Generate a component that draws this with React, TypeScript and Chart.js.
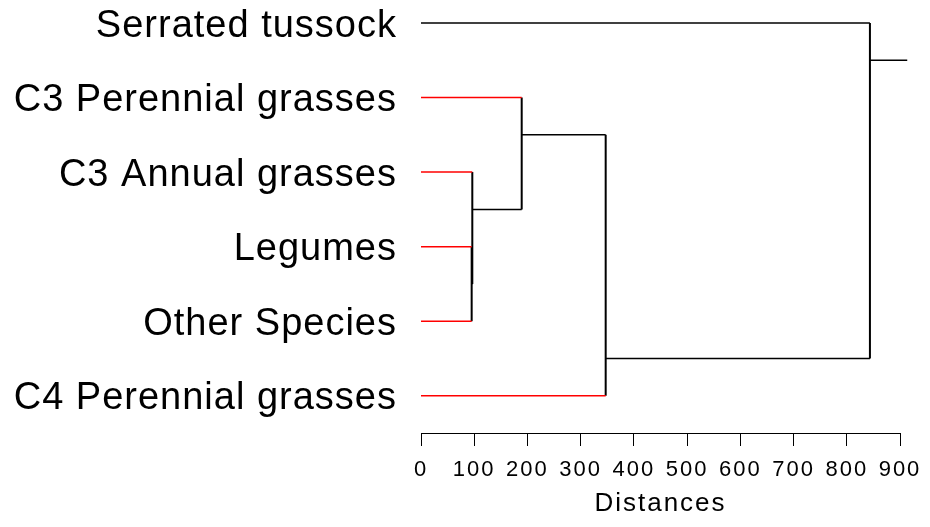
import React, { useEffect, useRef } from "react";
import { Chart, registerables } from "chart.js";

Chart.register(...registerables);

// Leaves, top to bottom (row index 0..5)
const leafLabels = [
  "Serrated tussock",
  "C3 Perennial grasses",
  "C3 Annual grasses",
  "Legumes",
  "Other Species",
  "C4 Perennial grasses",
];
// Distance at which each leaf joins its cluster
const leafJoin = [843.5, 189.2, 96.4, 95.2, 95.2, 347];
const leafColors = ["#000000", "#ff0000", "#ff0000", "#ff0000", "#ff0000", "#ff0000"];

// Internal nodes: joining distance, vertical extent (rows), outgoing row, parent distance
const nodeHeight = [95.2, 96.4, 189.2, 347, 843.5];
const nodeTop = [3, 2, 1, 1.5, 0];
const nodeBottom = [4, 3.5, 2.5, 5, 4.5];
const nodeOut = [3.5, 2.5, 1.5, 4.5, 0.5];
const nodeParent = [96.4, 189.2, 347, 843.5, 913.6];

const xTicks = [0, 100, 200, 300, 400, 500, 600, 700, 800, 900];

const FONT = "'Liberation Sans', Arial, Helvetica, sans-serif";

const spacingPlugin = {
  id: "spacing",
  beforeDraw(chart: any) {
    chart.ctx.letterSpacing = "1px";
  },
  afterDatasetsDraw(chart: any) {
    chart.ctx.letterSpacing = "2px";
  },
  afterDraw(chart: any) {
    chart.ctx.letterSpacing = "0px";
  },
};

export default function App() {
  const ref = useRef<HTMLCanvasElement | null>(null);

  useEffect(() => {
    if (!ref.current) return;
    const datasets: any[] = [];
    leafLabels.forEach((_, i) => {
      datasets.push({
        data: [
          { x: 0, y: i },
          { x: leafJoin[i], y: i },
        ],
        borderColor: leafColors[i],
        borderWidth: 1.5,
      });
    });
    nodeHeight.forEach((h, k) => {
      datasets.push({
        data: [
          { x: h, y: nodeTop[k] },
          { x: h, y: nodeBottom[k] },
        ],
        borderColor: "#000000",
        borderWidth: 2,
      });
      datasets.push({
        data: [
          { x: h, y: nodeOut[k] },
          { x: nodeParent[k], y: nodeOut[k] },
        ],
        borderColor: "#000000",
        borderWidth: 1.5,
      });
    });
    datasets.forEach((d) => {
      d.pointRadius = 0;
      d.pointHoverRadius = 0;
      d.clip = false;
      d.fill = false;
      d.tension = 0;
    });

    const chart = new Chart(ref.current, {
      type: "line",
      data: { datasets },
      plugins: [spacingPlugin],
      options: {
        animation: false,
        responsive: false,
        devicePixelRatio: 1,
        layout: { padding: { left: 0, right: 30, top: 0, bottom: 0 } },
        plugins: { legend: { display: false }, tooltip: { enabled: false } },
        scales: {
          x: {
            type: "linear",
            min: 0,
            max: 900,
            afterBuildTicks(scale: any) {
              scale.ticks = xTicks.map((v) => ({ value: v }));
            },
            afterFit(scale: any) {
              scale.height = 94;
              scale.paddingLeft = 0;
              scale.paddingRight = 0;
            },
            grid: {
              display: true,
              drawOnChartArea: false,
              drawTicks: true,
              tickLength: 13,
              color: "#000000",
              lineWidth: 1,
              z: 1,
            },
            border: { display: true, color: "#000000", width: 1, z: 1 },
            ticks: {
              z: 1,
              color: "#000000",
              padding: 11,
              maxRotation: 0,
              autoSkip: false,
              font: { family: FONT, size: 22 },
              callback: (v: any) => String(v),
            },
            title: {
              display: true,
              text: "Distances",
              color: "#000000",
              font: { family: FONT, size: 26 },
              padding: { top: 0, bottom: 8 },
            },
          },
          y: {
            type: "linear",
            reverse: true,
            min: -0.309,
            max: 5.5,
            afterBuildTicks(scale: any) {
              scale.ticks = leafLabels.map((_, i) => ({ value: i }));
            },
            afterFit(scale: any) {
              scale.width = 421;
              scale.paddingTop = 0;
              scale.paddingBottom = 0;
            },
            grid: { display: false, drawTicks: false },
            border: { display: false },
            ticks: {
              color: "#000000",
              padding: 24,
              labelOffset: 3,
              autoSkip: false,
              font: { family: FONT, size: 38 },
              callback: (v: any) => leafLabels[v] ?? "",
            },
          },
        },
      },
    });
    return () => chart.destroy();
  }, []);

  return (
    <div style={{ position: "fixed", left: 0, top: 0, width: 930, height: 527, background: "#fff" }}>
      <canvas ref={ref} width={930} height={527} style={{ display: "block" }} />
    </div>
  );
}
